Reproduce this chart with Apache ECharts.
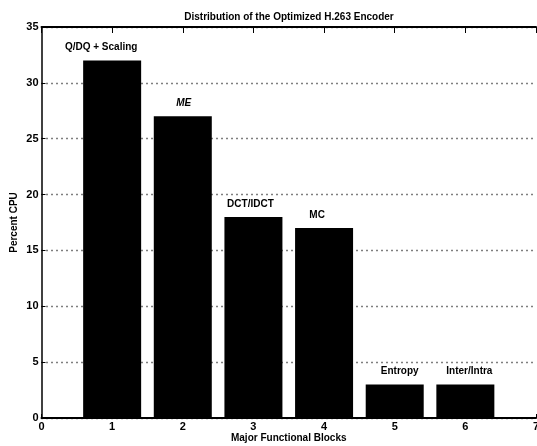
<!DOCTYPE html>
<html>
<head>
<meta charset="utf-8">
<script src="https://cdn.jsdelivr.net/npm/echarts@6/dist/echarts.min.js"></script>
<style>html,body{margin:0;padding:0;background:#fff;}#c{width:537px;height:446px;}</style>
</head>
<body>
<div id="c"></div>
<script>
const blocks = [1, 2, 3, 4, 5, 6];
const blockNames = ["Q/DQ + Scaling", "ME", "DCT/IDCT", "MC", "Entropy", "Inter/Intra"];
const percentCPU = [32, 27, 18, 17, 3, 3];
const xTicks = [0, 1, 2, 3, 4, 5, 6, 7];
const yTicks = [0, 5, 10, 15, 20, 25, 30, 35];

const labelOffsets = [[-11, 0], [1, 0], [-3, 0], [-7, 0], [5, 0], [4, 0]];

const font = '"Liberation Sans", Arial, sans-serif';
const chart = echarts.init(document.getElementById('c'), null, {renderer: 'canvas'});

const data = blocks.map((b, i) => ({
  value: [b, percentCPU[i]],
  label: {
    offset: labelOffsets[i],
    fontStyle: blockNames[i] === 'ME' ? 'italic' : 'normal'
  }
}));

chart.setOption({
  animation: false,
  backgroundColor: '#fff',
  title: {
    text: 'Distribution of the Optimized H.263 Encoder',
    left: 284, top: 7, textAlign: 'center',
    textStyle: {fontFamily: font, fontSize: 10, fontWeight: 'bold', color: '#000'}
  },
  grid: {left: 41.5, right: 1, top: 27, bottom: 28, containLabel: false, outerBoundsMode: 'none'},
  xAxis: [{
    type: 'value', min: 0, max: 7, interval: 1,
    name: 'Major Functional Blocks', nameLocation: 'middle', nameGap: 15, nameMoveOverlap: false,
    nameTextStyle: {fontFamily: font, fontSize: 10, fontWeight: 'bold', color: '#000'},
    axisLine: {show: true, onZero: false, lineStyle: {color: '#000', width: 2}},
    axisTick: {show: true, inside: true, length: 4, lineStyle: {color: '#000'}},
    axisLabel: {fontFamily: font, fontSize: 11, fontWeight: 'bold', color: '#000', margin: 3,
                formatter: v => String(xTicks[v])},
    splitLine: {show: false}
  }, {
    type: 'value', min: 0, max: 7, interval: 1, position: 'top',
    axisLine: {show: true, onZero: false, lineStyle: {color: '#000', width: 2}},
    axisTick: {show: true, inside: true, length: 6, lineStyle: {color: '#000'}},
    axisLabel: {show: false},
    splitLine: {show: false}
  }],
  yAxis: [{
    type: 'value', min: 0, max: 35, interval: 5,
    name: 'Percent CPU', nameLocation: 'middle', nameGap: 22, nameMoveOverlap: false,
    nameTextStyle: {fontFamily: font, fontSize: 10, fontWeight: 'bold', color: '#000'},
    axisLine: {show: true, onZero: false, lineStyle: {color: '#000', width: 1.5}},
    axisTick: {show: true, inside: true, length: 4, lineStyle: {color: '#000'}},
    axisLabel: {fontFamily: font, fontSize: 11, fontWeight: 'bold', color: '#000', margin: 3},
    splitLine: {show: true, lineStyle: {color: '#000', type: [1, 4], width: 1.3}}
  }],
  series: [{
    type: 'bar',
    data: data,
    barWidth: 58,
    itemStyle: {color: '#000'},
    label: {
      show: true, position: 'top', distance: 8,
      formatter: p => blockNames[p.dataIndex],
      fontFamily: font, fontSize: 10, fontWeight: 'bold', color: '#000'
    }
  }, {
    type: 'scatter', xAxisIndex: 1, yAxisIndex: 0, data: [], silent: true
  }]
});
</script>
</body>
</html>
